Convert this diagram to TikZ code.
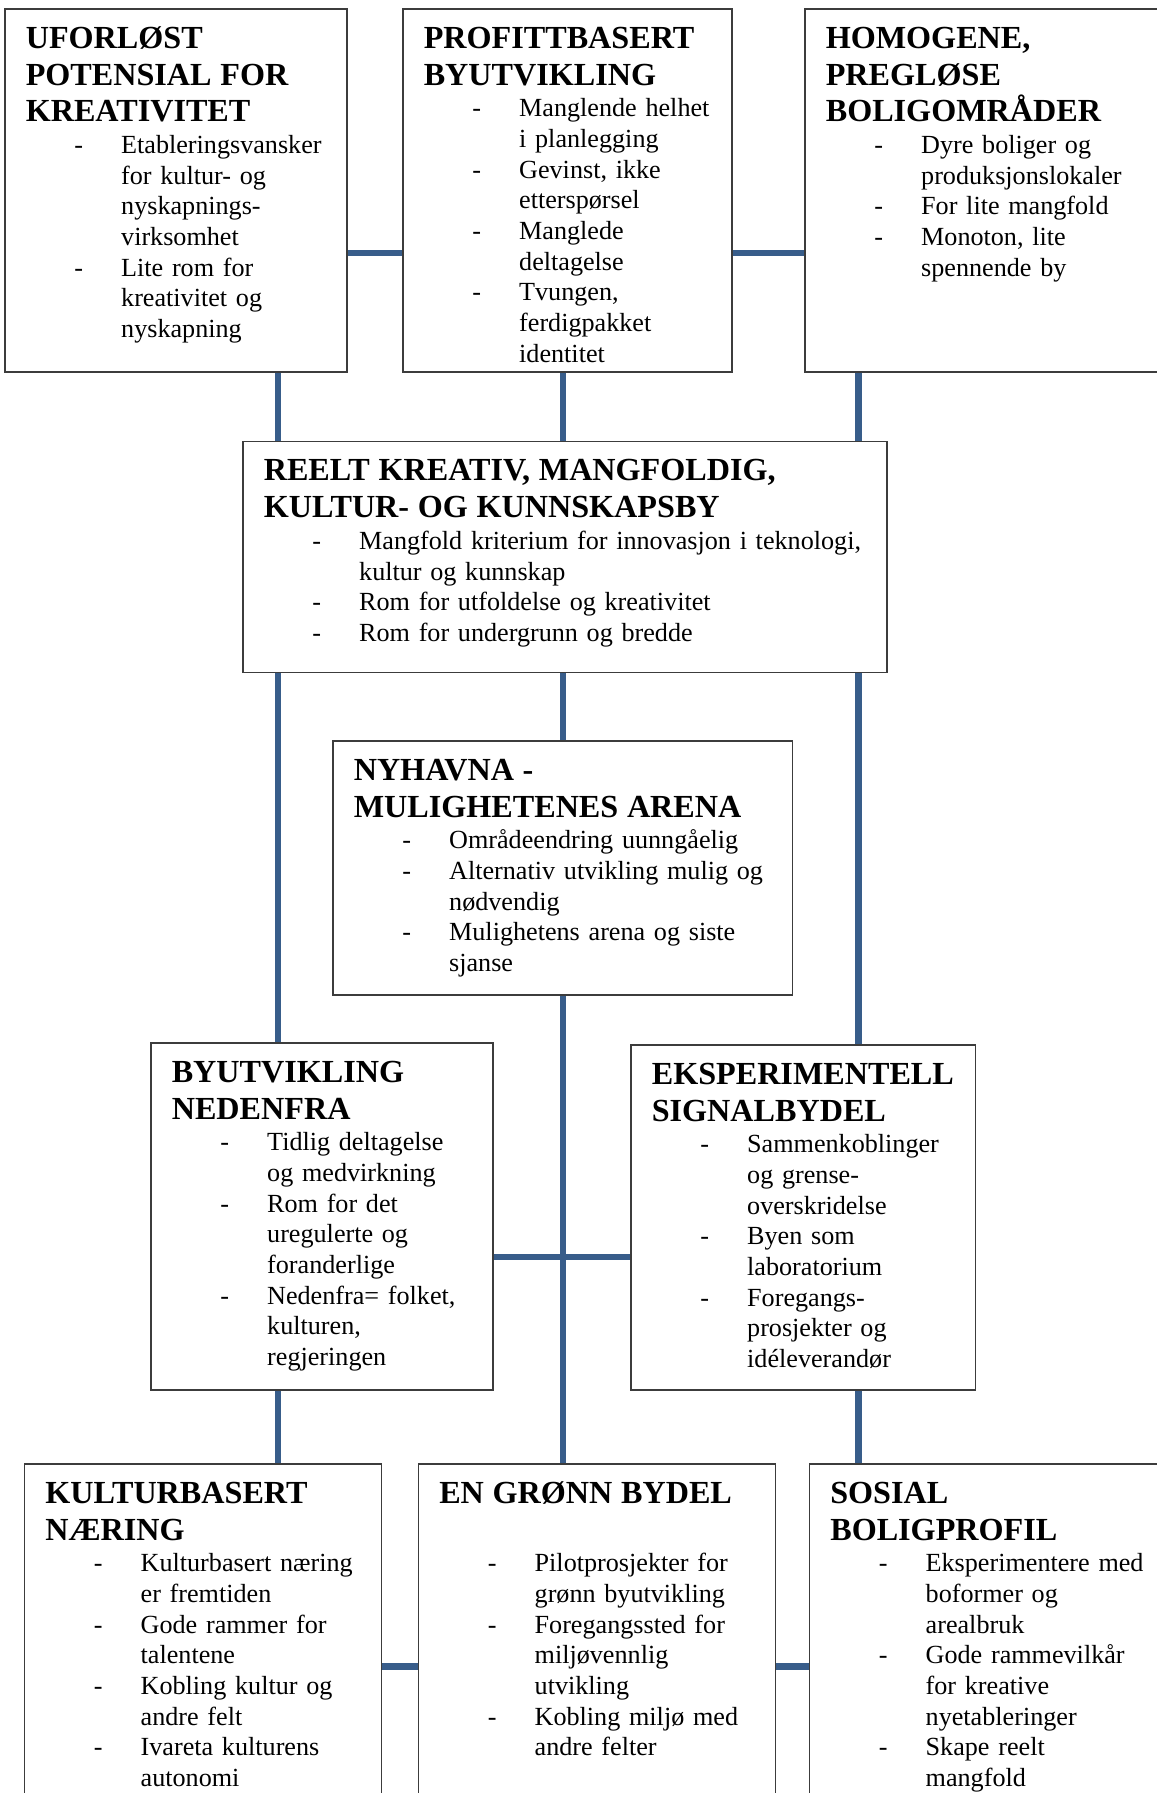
\documentclass[tikz,border=0pt]{standalone}
\usepackage{fontspec}
\setmainfont{Liberation Serif}
\usetikzlibrary{fit}

\definecolor{linjeblaa}{RGB}{56,93,138}
\definecolor{rammegraa}{RGB}{60,60,60}

\setlength\parskip{0pt}
\newlength\strekinn \setlength\strekinn{22.2pt}
\newlength\tekstinn \setlength\tekstinn{43.6pt}
\newcommand\brodtekst{\fontsize{11.95}{14}\selectfont}
\newcommand\overskrift[1]{{\noindent\fontsize{14.7}{16.7}\selectfont\bfseries\rule{0pt}{12pt}#1\par}\vspace{0.6pt}}
\newcommand\punkt[1]{\noindent\hangindent=\tekstinn\hangafter=1\makebox[\tekstinn][l]{\hspace{\strekinn}-}#1\par}

\tikzset{
  ramme/.style={draw=rammegraa, line width=0.6pt, inner sep=0pt},
  tekst/.style={anchor=north west, inner sep=0pt, text width=320pt, font=\brodtekst, xshift=9.6pt, yshift=-6.14pt},
  forbindelse/.style={draw=linjeblaa, line width=3.1pt}
}

\begin{document}
\begin{tikzpicture}[x=0.457pt,y=-0.457pt]
  \path[use as bounding box] (0,0) rectangle (1157,1793);
  \clip (0,0) rectangle (1157,1793);

  % boksene
  \node[ramme, fit={(5,9) (347,372)}] (ufor) {};
  \node[ramme, fit={(403,9) (732,372)}] (prof) {};
  \node[ramme, fit={(805,9) (1165,372)}] (homo) {};
  \node[ramme, fit={(243,441.5) (887,672.5)}] (reelt) {};
  \node[ramme, fit={(333,741) (792.5,995)}] (nyhavna) {};
  \node[ramme, fit={(151,1043) (493,1390)}] (nedenfra) {};
  \node[ramme, fit={(631,1045) (975.5,1390)}] (eksp) {};
  \node[ramme, fit={(24.5,1464) (381.5,1815)}] (kultur) {};
  \node[ramme, fit={(418.5,1464) (775.5,1815)}] (gronn) {};
  \node[ramme, fit={(809.5,1464) (1165,1815)}] (sosial) {};

  % tekst
  \node[tekst] (ufor-t) at (ufor.north west) {%
    \overskrift{UFORLØST\newline POTENSIAL FOR\newline KREATIVITET}
    \punkt{Etableringsvansker\newline for kultur- og\newline nyskapnings-\newline virksomhet}
    \punkt{Lite rom for\newline kreativitet og\newline nyskapning}};
  \node[tekst] (prof-t) at (prof.north west) {%
    \overskrift{PROFITTBASERT\newline BYUTVIKLING}
    \punkt{Manglende helhet\newline i planlegging}
    \punkt{Gevinst, ikke\newline etterspørsel}
    \punkt{Manglede\newline deltagelse}
    \punkt{Tvungen,\newline ferdigpakket\newline identitet}};
  \node[tekst] (homo-t) at (homo.north west) {%
    \overskrift{HOMOGENE,\newline PREGLØSE\newline BOLIGOMRÅDER}
    \punkt{Dyre boliger og\newline produksjonslokaler}
    \punkt{For lite mangfold}
    \punkt{Monoton, lite\newline spennende by}};
  \node[tekst] (reelt-t) at (reelt.north west) {%
    \overskrift{REELT KREATIV, MANGFOLDIG,\newline KULTUR- OG KUNNSKAPSBY}
    \punkt{Mangfold kriterium for innovasjon i teknologi,\newline kultur og kunnskap}
    \punkt{Rom for utfoldelse og kreativitet}
    \punkt{Rom for undergrunn og bredde}};
  \node[tekst] (nyhavna-t) at (nyhavna.north west) {%
    \overskrift{NYHAVNA -\newline MULIGHETENES ARENA}
    \punkt{Områdeendring uunngåelig}
    \punkt{Alternativ utvikling mulig og\newline nødvendig}
    \punkt{Mulighetens arena og siste\newline sjanse}};
  \node[tekst] (nedenfra-t) at (nedenfra.north west) {%
    \overskrift{BYUTVIKLING\newline NEDENFRA}
    \punkt{Tidlig deltagelse\newline og medvirkning}
    \punkt{Rom for det\newline uregulerte og\newline foranderlige}
    \punkt{Nedenfra= folket,\newline kulturen,\newline regjeringen}};
  \node[tekst] (eksp-t) at (eksp.north west) {%
    \overskrift{EKSPERIMENTELL\newline SIGNALBYDEL}
    \punkt{Sammenkoblinger\newline og grense-\newline overskridelse}
    \punkt{Byen som\newline laboratorium}
    \punkt{Foregangs-\newline prosjekter og\newline idéleverandør}};
  \node[tekst] (kultur-t) at (kultur.north west) {%
    \overskrift{KULTURBASERT\newline NÆRING}
    \punkt{Kulturbasert næring\newline er fremtiden}
    \punkt{Gode rammer for\newline talentene}
    \punkt{Kobling kultur og\newline andre felt}
    \punkt{Ivareta kulturens\newline autonomi}};
  \node[tekst] (gronn-t) at (gronn.north west) {%
    \overskrift{EN GRØNN BYDEL\newline\mbox{}}
    \punkt{Pilotprosjekter for\newline grønn byutvikling}
    \punkt{Foregangssted for\newline miljøvennlig\newline utvikling}
    \punkt{Kobling miljø med\newline andre felter}};
  \node[tekst] (sosial-t) at (sosial.north west) {%
    \overskrift{SOSIAL\newline BOLIGPROFIL}
    \punkt{Eksperimentere med\newline boformer og\newline arealbruk}
    \punkt{Gode rammevilkår\newline for kreative\newline nyetableringer}
    \punkt{Skape reelt\newline mangfold}};

  % forbindelser
  \coordinate (v1) at (278,0);
  \coordinate (v2) at (563,0);
  \coordinate (v3) at (858.5,0);
  \coordinate (h1) at (0,253);
  \coordinate (h2) at (0,1257);
  \coordinate (h3) at (0,1666.5);
  \draw[forbindelse] (ufor.east |- h1) -- (prof.west |- h1);
  \draw[forbindelse] (prof.east |- h1) -- (homo.west |- h1);
  \draw[forbindelse] (v1 |- ufor.south) -- (v1 |- reelt.north);
  \draw[forbindelse] (v2 |- prof.south) -- (v2 |- reelt.north);
  \draw[forbindelse] (v3 |- homo.south) -- (v3 |- reelt.north);
  \draw[forbindelse] (v1 |- reelt.south) -- (v1 |- nedenfra.north);
  \draw[forbindelse] (v2 |- reelt.south) -- (v2 |- nyhavna.north);
  \draw[forbindelse] (v3 |- reelt.south) -- (v3 |- eksp.north);
  \draw[forbindelse] (v2 |- nyhavna.south) -- (v2 |- gronn.north);
  \draw[forbindelse] (nedenfra.east |- h2) -- (eksp.west |- h2);
  \draw[forbindelse] (v1 |- nedenfra.south) -- (v1 |- kultur.north);
  \draw[forbindelse] (v3 |- eksp.south) -- (v3 |- sosial.north);
  \draw[forbindelse] (kultur.east |- h3) -- (gronn.west |- h3);
  \draw[forbindelse] (gronn.east |- h3) -- (sosial.west |- h3);
\end{tikzpicture}
\end{document}
